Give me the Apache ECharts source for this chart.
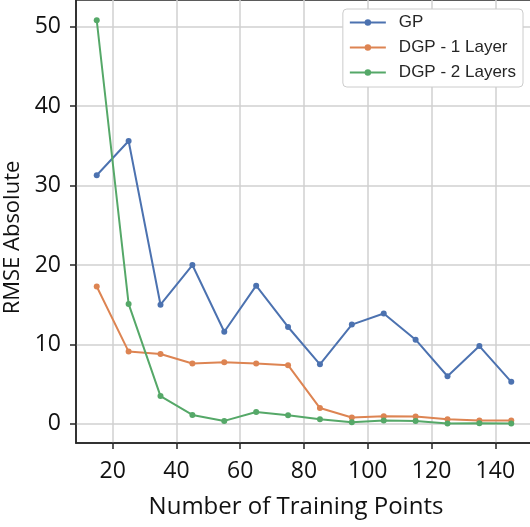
<!DOCTYPE html>
<html><head><meta charset="utf-8">
<script src="https://cdn.jsdelivr.net/npm/echarts@6/dist/echarts.min.js"></script>
<style>html,body{margin:0;padding:0;background:#fff}#c{width:530px;height:527px}</style>
</head><body><div id="c"></div>
<script>
const trainingPoints = [15,25,35,45,55,65,75,85,95,105,115,125,135,145];
const gp = [31.3,35.6,15.0,20.0,11.6,17.4,12.2,7.5,12.5,13.9,10.6,6.0,9.8,5.3];
const dgp1 = [17.3,9.1,8.8,7.6,7.75,7.6,7.4,2.0,0.8,0.96,0.95,0.58,0.42,0.42];
const dgp2 = [50.8,15.1,3.5,1.13,0.38,1.5,1.1,0.58,0.2,0.42,0.38,0.05,0.1,0.05];
const xTicks = [20,40,60,80,100,120,140];
const yTicks = [0,10,20,30,40,50];
const seriesNames = ['GP','DGP - 1 Layer','DGP - 2 Layers'];
const colors = ['#4c72b0','#dd8452','#55a868'];

const chart = echarts.init(document.getElementById('c'), null, {renderer:'canvas'});
const mk = (name, vals, color) => ({
  name, type:'line', data: trainingPoints.map((x,i)=>[x, vals[i]]),
  symbol:'circle', symbolSize:6, showSymbol:true,
  itemStyle:{color}, lineStyle:{color, width:2}, emphasis:{disabled:true}, animation:false
});
const tickFont = {fontFamily:'Open Sans', fontSize:23, color:'#111'};
chart.setOption({
  animation:false,
  grid:{left:76, top:0, right:-2, bottom:84, show:true, borderColor:'#262626', borderWidth:1.5, backgroundColor:'transparent', containLabel:false, outerBoundsMode:'none'},
  legend:{
    data: seriesNames, orient:'vertical', right:7, top:9,
    backgroundColor:'#fff', borderColor:'#cccccc', borderWidth:1, borderRadius:4,
    padding:[5,7,6,6], itemGap:8, itemWidth:36, itemHeight:8,
    textStyle:{fontFamily:'Liberation Sans', fontSize:17, color:'#262626', lineHeight:17, padding:[0,0,0,8]}
  },
  xAxis:{
    type:'value', min:8.5, max:151.5,
    name:'Number of Training Points', nameLocation:'middle', nameGap:52,
    nameTextStyle:{fontFamily:'Open Sans', fontSize:24, color:'#111', padding:[0,16,0,0]},
    axisLine:{show:true, onZero:false, lineStyle:{color:'#262626', width:1.5}},
    axisTick:{show:true, customValues:xTicks, length:6, lineStyle:{color:'#262626', width:1.5}},
    axisLabel:{customValues:xTicks, margin:17, ...tickFont},
    splitLine:{show:true, lineStyle:{color:'#d0d0d0', width:1.5}}
  },
  yAxis:{
    type:'value', min:-2.4, max:53.35,
    name:'RMSE Absolute', nameLocation:'middle', nameGap:47,
    nameTextStyle:{fontFamily:'Open Sans', fontSize:22, color:'#111', padding:[0,32,0,0]},
    axisLine:{show:true, onZero:false, lineStyle:{color:'#262626', width:1.5}},
    axisTick:{show:true, customValues:yTicks, length:6, lineStyle:{color:'#262626', width:1.5}},
    axisLabel:{customValues:yTicks, margin:15, ...tickFont},
    splitLine:{show:true, lineStyle:{color:'#d0d0d0', width:1.5}}
  },
  series:[mk(seriesNames[0], gp, colors[0]), mk(seriesNames[1], dgp1, colors[1]), mk(seriesNames[2], dgp2, colors[2])]
});
</script></body></html>
